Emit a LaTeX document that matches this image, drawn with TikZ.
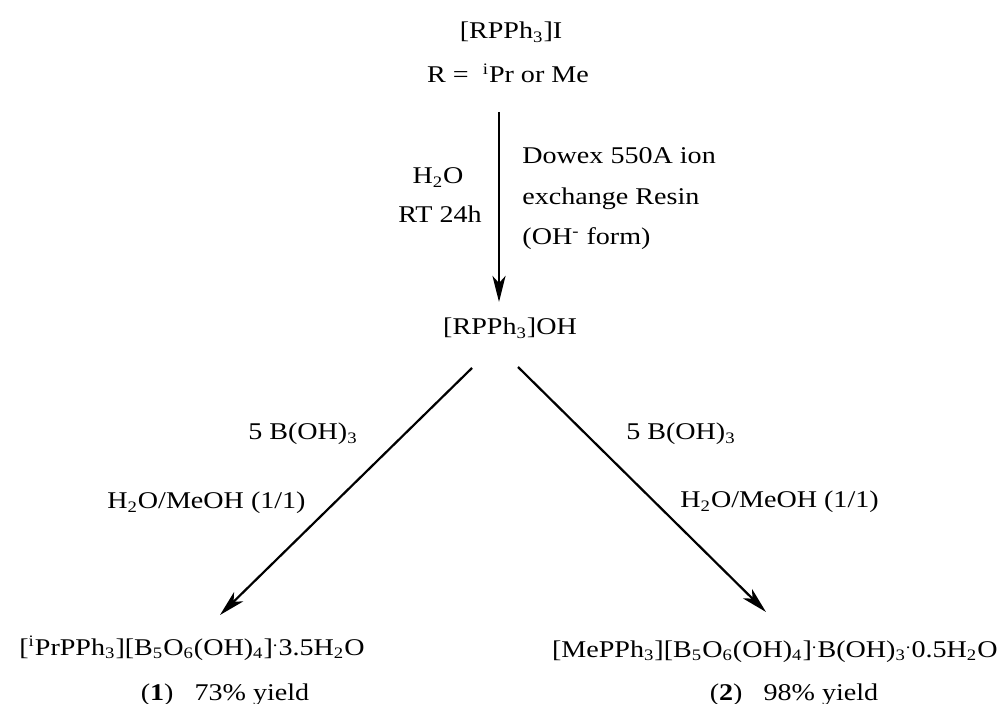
\documentclass[tikz,border=0pt]{standalone}
\usepackage{fontspec}
\setmainfont{Liberation Serif}[FakeStretch=1.17]
\usetikzlibrary{arrows.meta}
\newcommand{\sbs}[1]{\textsubscript{#1}}
\newcommand{\sps}[1]{\textsuperscript{#1}}
\newcommand{\hdot}{\textsuperscript{.}}
\begin{document}
\begin{tikzpicture}[x=0.5pt,y=-0.5pt,
  txt/.style={inner sep=0pt,font=\fontsize{12}{14}\selectfont},
  arr/.style={line width=1.1pt,-{Stealth[length=13pt,width=6.5pt,inset=3.5pt]}},
  varr/.style={line width=1.4pt,-{Stealth[length=13pt,width=6.5pt,inset=3.5pt]}}]
\useasboundingbox (0,0) rectangle (1000,704);
% texts
\node[txt,anchor=base] (top) at (511,39) {[RPPh\sbs{3}]I};
\node[txt,anchor=base] (r) at (508,83) {R =\ \ \sps{i}Pr or Me};
\node[txt,anchor=base] (h2o) at (438,184) {H\sbs{2}O};
\node[txt,anchor=base] (rt) at (440,223) {RT 24h};
\node[txt,anchor=base west] (dw1) at (522,164) {Dowex 550A ion};
\node[txt,anchor=base west] (dw2) at (522,205) {exchange Resin};
\node[txt,anchor=base west] (dw3) at (522,245) {(OH\sps{-} form)};
\node[txt,anchor=base] (oh) at (510,335) {[RPPh\sbs{3}]OH};
\node[txt,anchor=base] (b1) at (303,440) {5 B(OH)\sbs{3}};
\node[txt,anchor=base] (b2) at (681,440) {5 B(OH)\sbs{3}};
\node[txt,anchor=base east] (m1) at (306,509) {H\sbs{2}O/MeOH (1/1)};
\node[txt,anchor=base west] (m2) at (680,508) {H\sbs{2}O/MeOH (1/1)};
\node[txt,anchor=base east] (p1) at (365,655) {[\sps{i}PrPPh\sbs{3}][B\sbs{5}O\sbs{6}(OH)\sbs{4}]\hdot3.5H\sbs{2}O};
\node[txt,anchor=base] (y1) at (225,700) {(\textbf{1})\ \ \ 73\% yield};
\node[txt,anchor=base east] (p2) at (998,657) {[MePPh\sbs{3}][B\sbs{5}O\sbs{6}(OH)\sbs{4}]\hdot B(OH)\sbs{3}\hdot0.5H\sbs{2}O};
\node[txt,anchor=base] (y2) at (794,700) {(\textbf{2})\ \ \ 98\% yield};
% arrow end points
\coordinate (a1s) at (499,112);
\coordinate (a1e) at (499,302);
\coordinate (a2s) at (472,368);
\coordinate (a2e) at (220,615);
\coordinate (a3s) at (518,367);
\coordinate (a3e) at (766,612);
\draw[varr] (a1s) -- (a1e);
\draw[arr] (a2s) -- (a2e);
\draw[arr] (a3s) -- (a3e);
\end{tikzpicture}
\end{document}
